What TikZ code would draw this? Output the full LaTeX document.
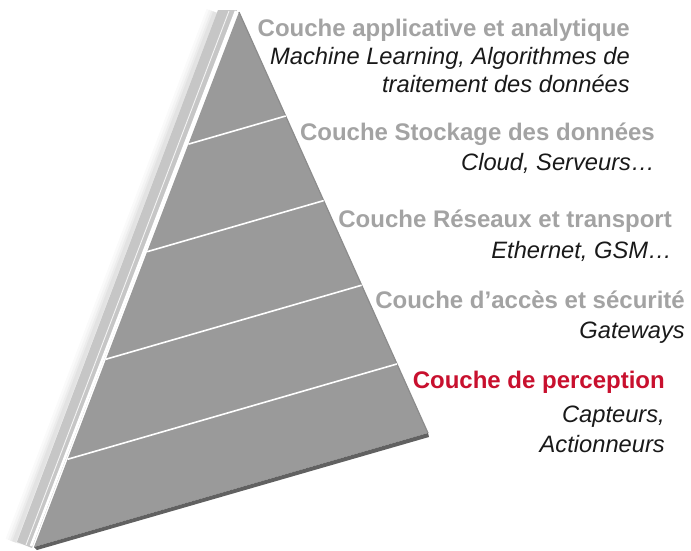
\documentclass[tikz,border=0pt]{standalone}
\usepackage{fontspec}
\setmainfont{Liberation Sans}
\usepackage{xcolor}
\usetikzlibrary{calc,positioning}
\definecolor{facegray}{RGB}{154,154,154}
\definecolor{stripgray}{RGB}{198,198,198}
\definecolor{titlegray}{RGB}{163,163,163}
\definecolor{percred}{RGB}{200,16,46}

\begin{document}
\begin{tikzpicture}[x=1pt,y=-1pt]
  \tikzstyle{couche}=[anchor=base east,inner sep=0pt,font=\fontsize{24}{28}\selectfont\bfseries,text=titlegray]
  \tikzstyle{detail}=[anchor=base east,inner sep=0pt,align=right,font=\fontsize{23.7}{29}\selectfont\itshape,text=black!90]
  \useasboundingbox (0,0) rectangle (691,550);
  \coordinate (top) at (239,12);
  \coordinate (left) at (34,547);
  \coordinate (right) at (428,433);
  % soft shadow and side strip
  \foreach \w/\o in {18/0.02,13/0.025,8/0.03,4/0.04}
    \draw[line width=\w pt,black,opacity=\o] (215,12) -- (14,542);
  \fill[stripgray] (218,10) -- (237,10) -- (32,548) -- (17,542) -- cycle;
  \draw[white,line width=0.9pt,opacity=0.8] (229,11) -- (26,545);
  \draw[white,line width=2.6pt] (236,11) -- (31,546);
  % front face
  \fill[facegray] (top) -- (left) -- (right) -- cycle;
  \fill[black!62] (left) -- (right) -- ($(right)+(1,4)$) -- ($(left)+(3,3)$) -- cycle;
  \draw[black!45,line width=1.2pt] (top) -- (right);
  \foreach \f in {0.247,0.448,0.649,0.836}
    \draw[white,line width=1.6pt] ($(top)!\f!(left)$) -- ($(top)!\f!(right)$);
  % layers
  \node[couche] (appli) at (630,36) {Couche applicative et analytique};
  \node[detail,font=\fontsize{23.7}{27.5}\selectfont\itshape] (appli-d) at (630,92) {Machine Learning, Algorithmes de\\traitement des données};
  \node[couche] (stockage) at (655,140) {Couche Stockage des données};
  \node[detail] (stockage-d) at (655,170) {Cloud, Serveurs…};
  \node[couche] (reseau) at (672,227) {Couche Réseaux et transport};
  \node[detail] (reseau-d) at (672,258) {Ethernet, GSM…};
  \node[couche] (acces) at (685,308) {Couche d’accès et sécurité};
  \node[detail] (acces-d) at (685,338) {Gateways};
  \node[couche,text=percred] (percep) at (665,388) {Couche de perception};
  \node[detail,font=\fontsize{23.7}{30}\selectfont\itshape] (percep-d) at (665,452) {Capteurs,\\Actionneurs};
\end{tikzpicture}
\end{document}
